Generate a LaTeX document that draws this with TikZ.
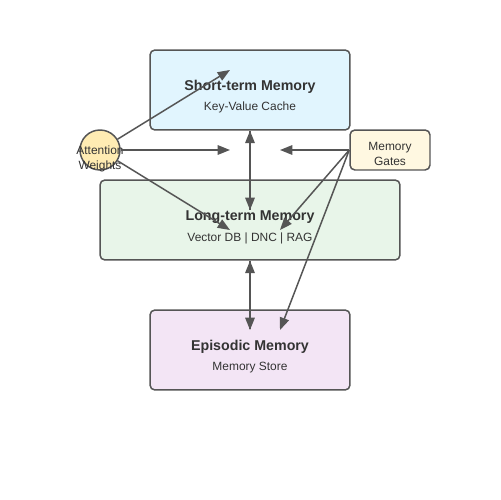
\documentclass[tikz,border=0pt]{standalone}
\usepackage{fontspec}
\setmainfont{Liberation Sans}
\usetikzlibrary{arrows.meta}
\definecolor{edgegray}{HTML}{555555}
\definecolor{textgray}{HTML}{333333}
\definecolor{stfill}{HTML}{E1F5FE}
\definecolor{ltfill}{HTML}{E8F5E9}
\definecolor{epfill}{HTML}{F3E5F5}
\definecolor{attfill}{HTML}{FFECB3}
\definecolor{gatefill}{HTML}{FFF8E1}
\tikzset{
	membox/.style = {rectangle, draw=edgegray, line width=0.85pt,
		rounded corners=2.8pt, inner sep=0pt},% memory block
	memtitle/.style = {text=textgray, font=\fontsize{8.1}{9.7}\selectfont\bfseries},
	memsub/.style = {text=textgray, font=\fontsize{6.8}{8.2}\selectfont},
	flow/.style = {draw=edgegray, line width=0.85pt,
		-{Triangle[length=7pt,width=5.4pt]}},
	biflow/.style = {flow, {Triangle[length=7pt,width=5.4pt]}-{Triangle[length=7pt,width=5.4pt]}}
}

\begin{document}
\begin{tikzpicture}[x=0.02cm,y=-0.02cm]
	\useasboundingbox (0,0) rectangle (500,500);
	% blocks
	\node [membox, fill=stfill, minimum width=4cm, minimum height=1.6cm] (st) at (250,90) {};
	\node [membox, fill=ltfill, minimum width=6cm, minimum height=1.6cm] (lt) at (250,220) {};
	\node [membox, fill=epfill, minimum width=4cm, minimum height=1.6cm] (ep) at (250,350) {};
	\node [membox, fill=gatefill, minimum width=1.6cm, minimum height=0.8cm] (gates) at (390,150) {};
	\node [circle, draw=edgegray, line width=0.85pt, fill=attfill, minimum size=0.8cm,
		inner sep=0pt] (att) at (100,150) {};
	% labels
	\node [memtitle] (stT) at (250,87) {Short-term Memory};
	\node [memsub] (stS) at (250,107) {Key-Value Cache};
	\node [memtitle] (ltT) at (250,217) {Long-term Memory};
	\node [memsub] (ltS) at (250,238) {Vector DB | DNC | RAG};
	\node [memtitle] (epT) at (250,347) {Episodic Memory};
	\node [memsub] (epS) at (250,368) {Memory Store};
	\node [memsub, align=center] (gatesT) at (390,154) {Memory\\[0.3pt]Gates};
	\node [memsub, align=center] (attT) at (100,159) {Attention\\[0.6pt]Weights};
	% end points of the connectors
	\coordinate (attST) at (230,70);
	\coordinate (attMid) at (230,150);
	\coordinate (attLT) at (230,230);
	\coordinate (gateMid) at (280,150);
	\coordinate (gateLT) at (280,230);
	\coordinate (gateEP) at (280,330);
	\coordinate (stLT) at (250,210);
	\coordinate (ltEP) at (250,330);
	% connectors
	\draw [flow] (att) -- (attST);
	\draw [flow] (att) -- (attMid);
	\draw [flow] (att) -- (attLT);
	\draw [flow] (gates.west) -- (gateMid);
	\draw [flow] (gates.west) -- (gateLT);
	\draw [flow] (gates.west) -- (gateEP);
	\draw [biflow] (st.south) -- (stLT);
	\draw [edgegray, line width=0.85pt, dashed] (st.south) -- (stLT);
	\draw [biflow] (lt.south) -- (ltEP);
	\draw [edgegray, line width=0.85pt, dashed] (lt.south) -- (ltEP);
\end{tikzpicture}
\end{document}
